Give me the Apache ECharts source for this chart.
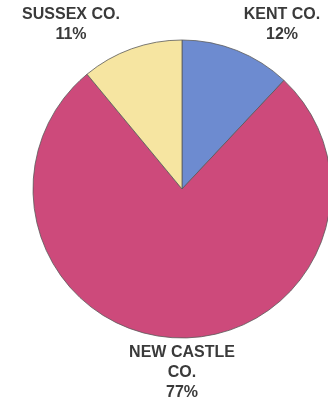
<!DOCTYPE html>
<html>
<head>
<meta charset="utf-8">
<script src="https://cdn.jsdelivr.net/npm/echarts@6/dist/echarts.min.js"></script>
<style>
  html, body { margin: 0; padding: 0; background: #fff; }
  #chart { width: 328px; height: 402px; }
</style>
</head>
<body>
<div id="chart"></div>
<script>
var counties = ['KENT CO.', 'NEW CASTLE\nCO.', 'SUSSEX CO.'];
var shares = [12, 77, 11];
var colors = ['#6d8bd0', '#cd4a7b', '#f6e5a1'];

// where each label sits (label centre, px)
var labelSpots = [[282, 25], [182, 373], [71, 25]];

var chart = echarts.init(document.getElementById('chart'));

var data = counties.map(function (name, i) {
  return { name: name, value: shares[i], itemStyle: { color: colors[i] } };
});

var option = {
  animation: false,
  series: [{
    type: 'pie',
    center: [182, 189],
    radius: 149,
    startAngle: 90,
    clockwise: true,
    data: data,
    itemStyle: { borderColor: '#5a5a5a', borderWidth: 0.8 },
    label: {
      show: true,
      position: 'outside',
      alignTo: 'none',
      overflow: 'none',
      formatter: function (p) { return p.name + '\n' + p.value + '%'; },
      fontFamily: 'Liberation Sans, Arial, sans-serif',
      fontWeight: 'bold',
      fontSize: 16,
      lineHeight: 20,
      color: '#3a3a3a',
      align: 'center'
    },
    labelLine: { show: false },
    labelLayout: function (params) {
      var s = labelSpots[params.dataIndex];
      return { x: s[0], y: s[1], align: 'center', verticalAlign: 'middle' };
    },
    emphasis: { disabled: true }
  }]
};

chart.setOption(option);
</script>
</body>
</html>
